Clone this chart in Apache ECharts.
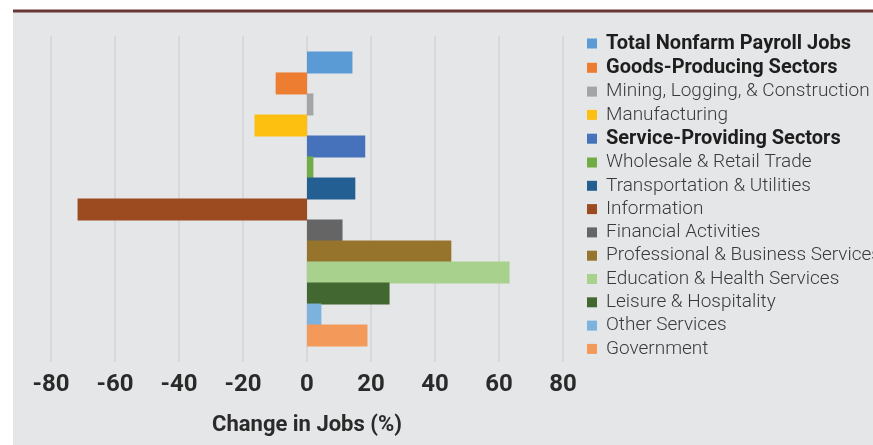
<!DOCTYPE html>
<html>
<head>
<meta charset="utf-8">
<script src="https://cdn.jsdelivr.net/npm/echarts@6/dist/echarts.min.js"></script>
<style>
  html, body { margin: 0; padding: 0; background: #fff; }
  #chart { width: 873px; height: 445px; }
</style>
</head>
<body>
<div id="chart"></div>
<script>
// sectors, in legend order
var sectors = [
  'Total Nonfarm Payroll Jobs',
  'Goods-Producing Sectors',
  'Mining, Logging, & Construction',
  'Manufacturing',
  'Service-Providing Sectors',
  'Wholesale & Retail Trade',
  'Transportation & Utilities',
  'Information',
  'Financial Activities',
  'Professional & Business Services',
  'Education & Health Services',
  'Leisure & Hospitality',
  'Other Services',
  'Government'
];
// change in jobs (%)
var changes = [14.2, -9.8, 2, -16.4, 18.2, 2, 15.1, -71.7, 11.1, 45.1, 63.3, 25.8, 4.5, 18.9];
var boldSectors = ['Total Nonfarm Payroll Jobs', 'Goods-Producing Sectors', 'Service-Providing Sectors'];
var xTicks = [-80, -60, -40, -20, 0, 20, 40, 60, 80];

var colors = ['#5b9bd5', '#ed7d31', '#a5a5a5', '#fdc010', '#4672bc', '#70ad47', '#245f93',
              '#9c4a20', '#646564', '#96742c', '#a9d18e', '#436731', '#7cb2de', '#f39a5a'];

var chart = echarts.init(document.getElementById('chart'));

var series = sectors.map(function (name, i) {
  return {
    name: name,
    type: 'bar',
    data: [changes[i]],
    barWidth: 22,
    barGap: '-4.5%',
    itemStyle: { color: colors[i] }
  };
});

var option = {
  backgroundColor: '#fff',
  animation: false,
  graphic: [
    { type: 'rect', z: -10, shape: { x: 13, y: 12, width: 860, height: 433 }, style: { fill: '#e5e6e8' } },
    { type: 'rect', z: -9, shape: { x: 13, y: 9.5, width: 860, height: 3 }, style: { fill: '#6a3636' } }
  ],
  grid: { left: 51, right: 310, top: 36, bottom: 83 },
  legend: {
    orient: 'vertical',
    left: 582,
    top: 28.5,
    itemWidth: 10,
    itemHeight: 10,
    itemGap: 4.3,
    icon: 'rect',
    data: sectors,
    formatter: function (name) {
      return boldSectors.indexOf(name) >= 0 ? '{b|' + name + '}' : '{n|' + name + '}';
    },
    textStyle: {
      padding: [0, 0, 0, 4],
      rich: {
        b: { fontFamily: 'Roboto', fontSize: 20, fontWeight: 'bold', color: '#1e1e1e', lineHeight: 19 },
        n: { fontFamily: 'Roboto', fontSize: 19, fontWeight: 300, color: '#3a3a3a', lineHeight: 19 }
      }
    }
  },
  xAxis: {
    type: 'value',
    min: xTicks[0],
    max: xTicks[xTicks.length - 1],
    interval: 20,
    name: 'Change in Jobs (%)',
    nameLocation: 'middle',
    nameGap: 52,
    nameTextStyle: { fontFamily: 'Roboto', fontSize: 22, fontWeight: 'bold', color: '#2a2a2a' },
    axisLine: { show: false },
    axisTick: { show: false },
    axisLabel: { fontFamily: 'Roboto', fontSize: 24, fontWeight: 'bold', color: '#2a2a2a', margin: 11 },
    splitLine: { lineStyle: { color: '#d3d3d3', width: 1.5 } }
  },
  yAxis: {
    type: 'category',
    data: ['Change'],
    show: false
  },
  series: series
};

chart.setOption(option);
</script>
</body>
</html>
